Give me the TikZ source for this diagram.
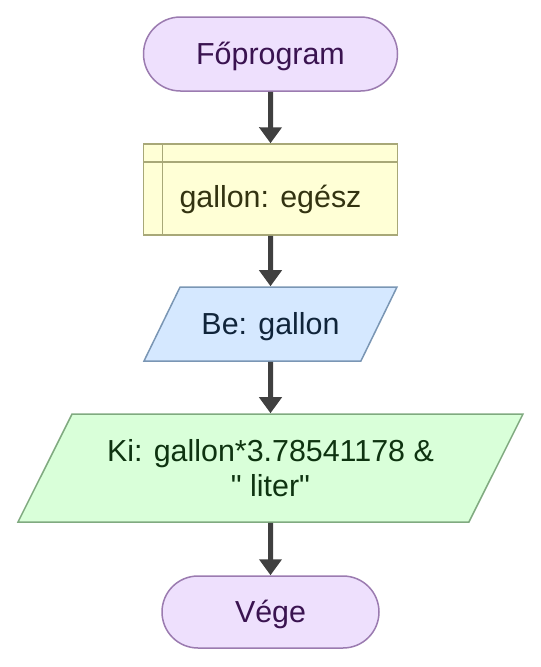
\documentclass[tikz,border=0pt]{standalone}
\usepackage{fontspec}
\setmainfont{Liberation Sans}
\usetikzlibrary{arrows.meta,shapes.geometric,shapes.misc}
\definecolor{termfill}{HTML}{EEE0FD}
\definecolor{termline}{HTML}{9B7BB0}
\definecolor{termtext}{HTML}{3A1350}
\definecolor{declfill}{HTML}{FFFFD6}
\definecolor{declline}{HTML}{A8A878}
\definecolor{decltext}{HTML}{333311}
\definecolor{infill}{HTML}{D5E8FF}
\definecolor{inline}{HTML}{7A96B4}
\definecolor{intext}{HTML}{10243A}
\definecolor{outfill}{HTML}{D9FFD9}
\definecolor{outline}{HTML}{80AA80}
\definecolor{outtext}{HTML}{0E3310}
\definecolor{flowcol}{HTML}{404040}
\begin{document}
\begin{tikzpicture}[x=1pt, y=-1pt, >={Triangle[length=16pt, width=22pt]},
    font=\fontsize{30.4}{35}\selectfont,
    every node/.style={text height=20pt, text depth=0pt, inner sep=0pt, line width=1.5pt},
    term/.style={rounded rectangle, draw=termline, fill=termfill, text=termtext},
    decl/.style={rectangle, draw=declline, fill=declfill, text=decltext,
        text height=63pt, text depth=28pt, minimum width=254pt,
        path picture={
            \draw[declline, line width=1.5pt] ([xshift=19pt]path picture bounding box.north west) -- ([xshift=19pt]path picture bounding box.south west);
            \draw[declline, line width=1.5pt] ([yshift=-18pt]path picture bounding box.north west) -- ([yshift=-18pt]path picture bounding box.north east);
        }},
    io/.style={trapezium, trapezium stretches body, trapezium left angle=#1, trapezium right angle=180-#1},
    flow/.style={->, draw=flowcol, line width=5pt}]
    \useasboundingbox (0,0) rectangle (541,667);

    % Nodes of the flowchart, top to bottom
    \node[term, minimum width=254pt, minimum height=74pt] (start) at (270.5, 54) {Főprogram};
    \node[decl] (gallon) at (270.5, 189.5) {gallon: egész};
    \node[io=64, draw=inline, fill=infill, text=intext, inner ysep=27pt, minimum width=253pt] (read) at (270.5, 324) {Be: gallon};
    \node[io=63.4, draw=outline, fill=outfill, text=outtext, align=center, text height=56pt, inner ysep=26pt, minimum width=505pt] (write) at (270.5, 468) {Ki: gallon*3.78541178 \&\\\textquotedbl{} liter\textquotedbl};
    \node[term, minimum width=217pt, minimum height=72pt] (stop) at (270.5, 612) {Vége};

    % Edges
    \draw[flow] (start) -- (gallon);
    \draw[flow] (gallon) -- (read);
    \draw[flow] (read) -- (write);
    \draw[flow] (write) -- (stop);
\end{tikzpicture}
\end{document}
